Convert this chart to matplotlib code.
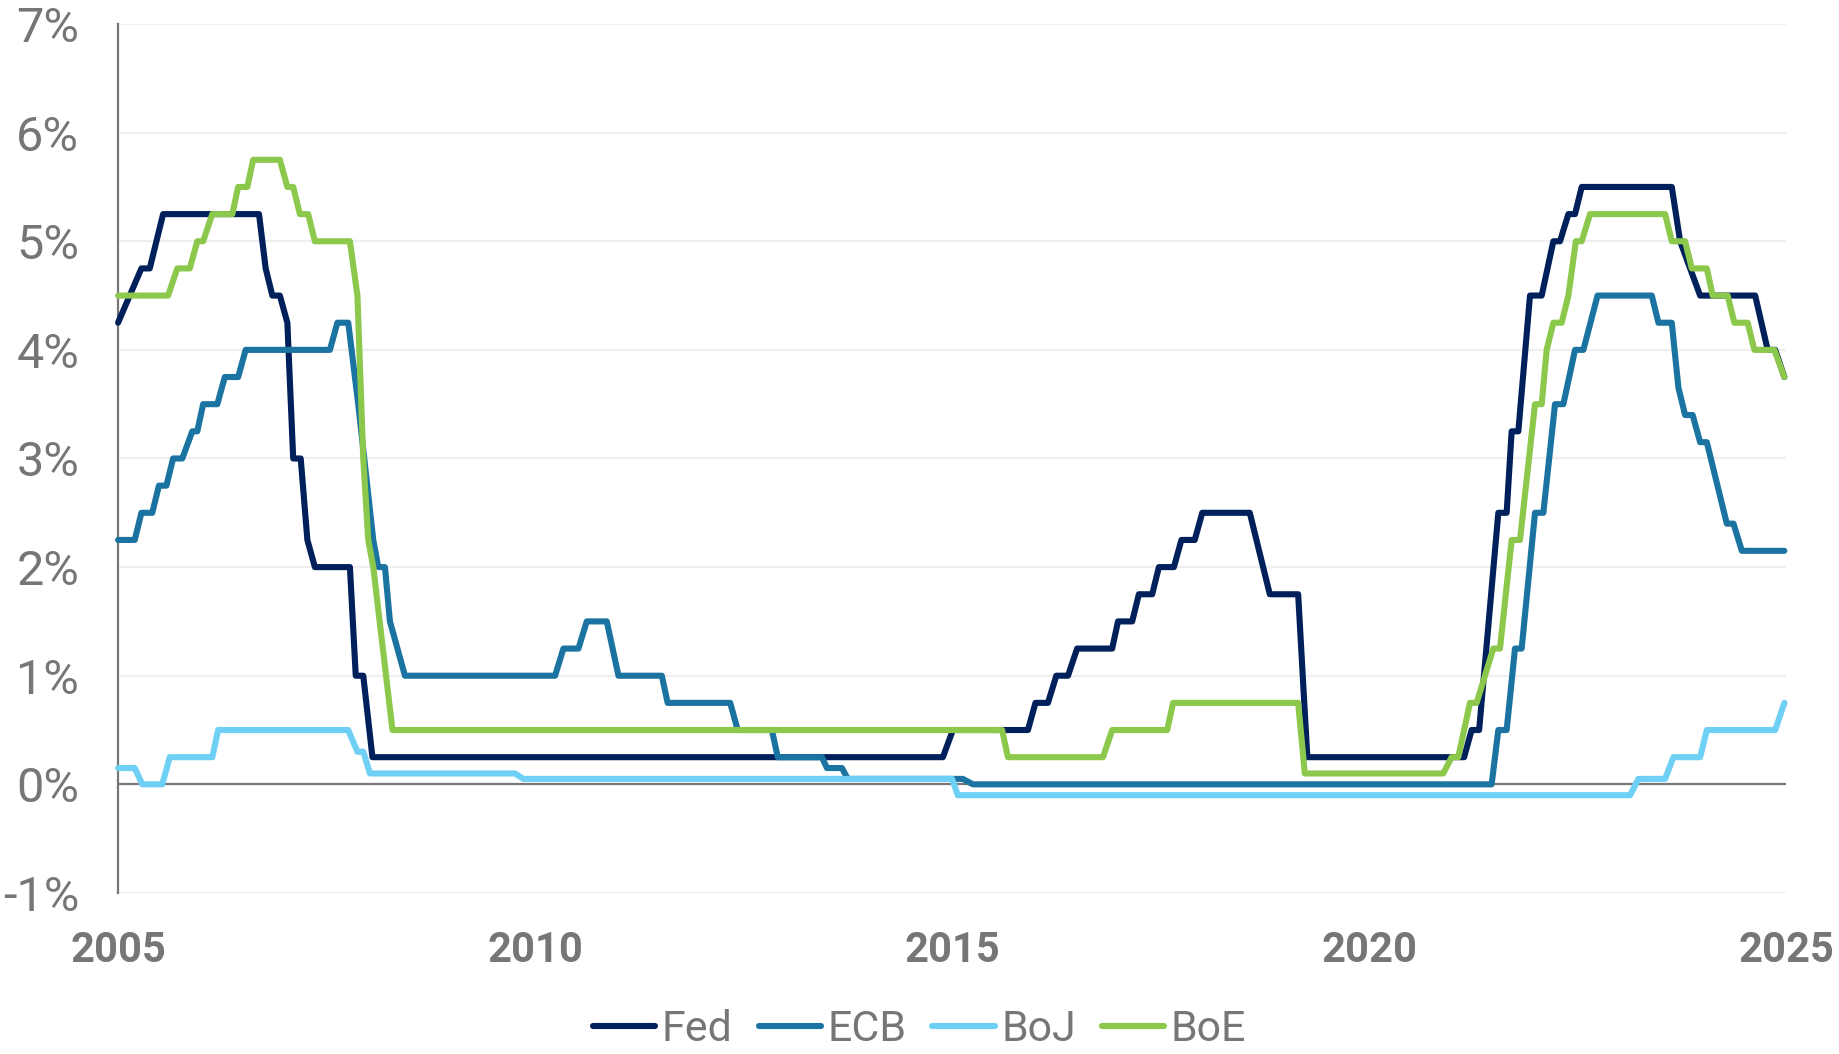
import matplotlib
matplotlib.use("Agg")
import matplotlib.pyplot as plt
from matplotlib.font_manager import FontProperties

# ------------------------------------------------------------------
# Policy rates (%), vertices (x = fractional year)
# ------------------------------------------------------------------
fed_x = [2005.00, 2005.28, 2005.38, 2005.54, 2006.69, 2006.77, 2006.85, 2006.94,
         2007.03, 2007.10, 2007.19, 2007.27, 2007.36, 2007.78, 2007.85, 2007.94,
         2008.05, 2014.89, 2015.01, 2015.91, 2016.00, 2016.15, 2016.25, 2016.39,
         2016.50, 2016.92, 2016.99, 2017.16, 2017.24, 2017.40, 2017.48, 2017.66,
         2017.75, 2017.91, 2018.00, 2018.57, 2018.81, 2019.15, 2019.26, 2021.14,
         2021.23, 2021.32, 2021.55, 2021.65, 2021.71, 2021.79, 2021.93, 2022.07,
         2022.21, 2022.29, 2022.39, 2022.47, 2022.55, 2023.63, 2023.73, 2023.97,
         2024.63, 2024.78, 2024.87, 2024.98]
fed_y = [4.25, 4.75, 4.75, 5.25, 5.25, 4.75, 4.50, 4.50,
         4.25, 3.00, 3.00, 2.25, 2.00, 2.00, 1.00, 1.00,
         0.25, 0.25, 0.50, 0.50, 0.75, 0.75, 1.00, 1.00,
         1.25, 1.25, 1.50, 1.50, 1.75, 1.75, 2.00, 2.00,
         2.25, 2.25, 2.50, 2.50, 1.75, 1.75, 0.25, 0.25,
         0.50, 0.50, 2.50, 2.50, 3.25, 3.25, 4.50, 4.50,
         5.00, 5.00, 5.25, 5.25, 5.50, 5.50, 5.00, 4.50,
         4.50, 4.00, 4.00, 3.75]

ecb_x = [2005.00, 2005.20, 2005.28, 2005.41, 2005.49, 2005.58, 2005.66, 2005.77,
         2005.89, 2005.95, 2006.02, 2006.19, 2006.28, 2006.44, 2006.53, 2007.54,
         2007.63, 2007.76, 2007.88, 2008.06, 2008.12, 2008.20, 2008.26, 2008.44,
         2010.24, 2010.34, 2010.52, 2010.62, 2010.86, 2011.00, 2011.52, 2011.59,
         2012.34, 2012.43, 2012.84, 2012.91, 2013.44, 2013.50, 2013.68, 2013.75,
         2015.13, 2015.25, 2021.47, 2021.55, 2021.65, 2021.75, 2021.83, 2021.99,
         2022.09, 2022.23, 2022.33, 2022.47, 2022.57, 2022.74, 2023.39, 2023.47,
         2023.63, 2023.71, 2023.79, 2023.88, 2023.97, 2024.05, 2024.29, 2024.37,
         2024.47, 2024.98]
ecb_y = [2.25, 2.25, 2.50, 2.50, 2.75, 2.75, 3.00, 3.00,
         3.25, 3.25, 3.50, 3.50, 3.75, 3.75, 4.00, 4.00,
         4.25, 4.25, 3.50, 2.25, 2.00, 2.00, 1.50, 1.00,
         1.00, 1.25, 1.25, 1.50, 1.50, 1.00, 1.00, 0.75,
         0.75, 0.50, 0.50, 0.25, 0.25, 0.15, 0.15, 0.05,
         0.05, 0.00, 0.00, 0.50, 0.50, 1.25, 1.25, 2.50,
         2.50, 3.50, 3.50, 4.00, 4.00, 4.50, 4.50, 4.25,
         4.25, 3.65, 3.40, 3.40, 3.15, 3.15, 2.40, 2.40,
         2.15, 2.15]

boj_x = [2005.00, 2005.20, 2005.29, 2005.53, 2005.62, 2006.13, 2006.20, 2007.76,
         2007.87, 2007.94, 2008.02, 2009.76, 2009.86, 2015.00, 2015.07, 2023.13,
         2023.23, 2023.55, 2023.65, 2023.97, 2024.05, 2024.87, 2024.98]
boj_y = [0.15, 0.15, 0.00, 0.00, 0.25, 0.25, 0.50, 0.50,
         0.30, 0.30, 0.10, 0.10, 0.05, 0.05, -0.10, -0.10,
         0.05, 0.05, 0.25, 0.25, 0.50, 0.50, 0.75]

boe_x = [2005.00, 2005.60, 2005.71, 2005.86, 2005.95, 2006.02, 2006.13, 2006.37,
         2006.44, 2006.55, 2006.62, 2006.94, 2007.03, 2007.10, 2007.18, 2007.28,
         2007.36, 2007.78, 2007.87, 2007.94, 2008.00, 2008.06, 2008.29, 2015.60,
         2015.67, 2016.81, 2016.92, 2017.58, 2017.65, 2019.15, 2019.23, 2020.89,
         2020.99, 2021.07, 2021.21, 2021.29, 2021.49, 2021.57, 2021.71, 2021.81,
         2021.99, 2022.07, 2022.13, 2022.21, 2022.31, 2022.39, 2022.48, 2022.55,
         2022.65, 2023.55, 2023.63, 2023.79, 2023.87, 2024.05, 2024.12, 2024.30,
         2024.38, 2024.54, 2024.62, 2024.86, 2024.98]
boe_y = [4.50, 4.50, 4.75, 4.75, 5.00, 5.00, 5.25, 5.25,
         5.50, 5.50, 5.75, 5.75, 5.50, 5.50, 5.25, 5.25,
         5.00, 5.00, 4.50, 3.00, 2.25, 2.00, 0.50, 0.50,
         0.25, 0.25, 0.50, 0.50, 0.75, 0.75, 0.10, 0.10,
         0.25, 0.25, 0.75, 0.75, 1.25, 1.25, 2.25, 2.25,
         3.50, 3.50, 4.00, 4.25, 4.25, 4.50, 5.00, 5.00,
         5.25, 5.25, 5.00, 5.00, 4.75, 4.75, 4.50, 4.50,
         4.25, 4.25, 4.00, 4.00, 3.75]

series = [
    ("Fed", fed_x, fed_y, "#00205B"),
    ("ECB", ecb_x, ecb_y, "#1A73A0"),
    ("BoJ", boj_x, boj_y, "#6FD0F6"),
    ("BoE", boe_x, boe_y, "#8CC84B"),
]

y_ticks = [-1, 0, 1, 2, 3, 4, 5, 6, 7]
x_ticks = [2005, 2010, 2015, 2020, 2025]

GREY = "#767676"
GRID = "#EFEFEF"

plt.rcParams["font.family"] = ["Roboto", "DejaVu Sans"]

fig = plt.figure(figsize=(18.39, 10.54), dpi=100)
ax = fig.add_axes([0.0642, 0.1528, 0.9070, 0.8244])

# gridlines (the 0% line is drawn darker)
for t in y_ticks:
    if t == 0:
        continue
    ax.axhline(t, color=GRID, linewidth=1.6, zorder=0)
ax.axhline(0, color=GREY, linewidth=1.6, zorder=1)

for name, xs, ys, col in series:
    ax.plot(xs, ys, color=col, linewidth=4.4, label=name,
            solid_capstyle="round", solid_joinstyle="round",
            clip_on=False, zorder=3)

ax.set_xlim(2005, 2025)
ax.set_ylim(-1, 7)

ax.set_yticks(y_ticks)
ax.set_yticklabels([f"{t}%" for t in y_ticks])
ax.set_xticks(x_ticks)
ax.set_xticklabels([str(t) for t in x_ticks], fontweight="bold")

ax.tick_params(axis="y", length=0, pad=28, labelsize=35, labelcolor=GREY)
ax.tick_params(axis="x", length=0, pad=27, labelsize=30, labelcolor=GREY)

for s in ["top", "right", "bottom"]:
    ax.spines[s].set_visible(False)
ax.spines["left"].set_color(GREY)
ax.spines["left"].set_linewidth(1.6)

# legend text in the original is a condensed face; Roboto is the closest installed
leg_font = FontProperties(family=["Roboto"], size=31)
leg = fig.legend(loc="center", bbox_to_anchor=(0.5, 0.023), ncol=4, frameon=False,
                 prop=leg_font, handlelength=1.45, handletextpad=0.15,
                 columnspacing=0.6, borderaxespad=0)
for txt in leg.get_texts():
    txt.set_color(GREY)
for h in leg.get_lines():
    h.set_linewidth(4.4)
    h.set_solid_capstyle("round")

fig.savefig("out.png", dpi=100)
